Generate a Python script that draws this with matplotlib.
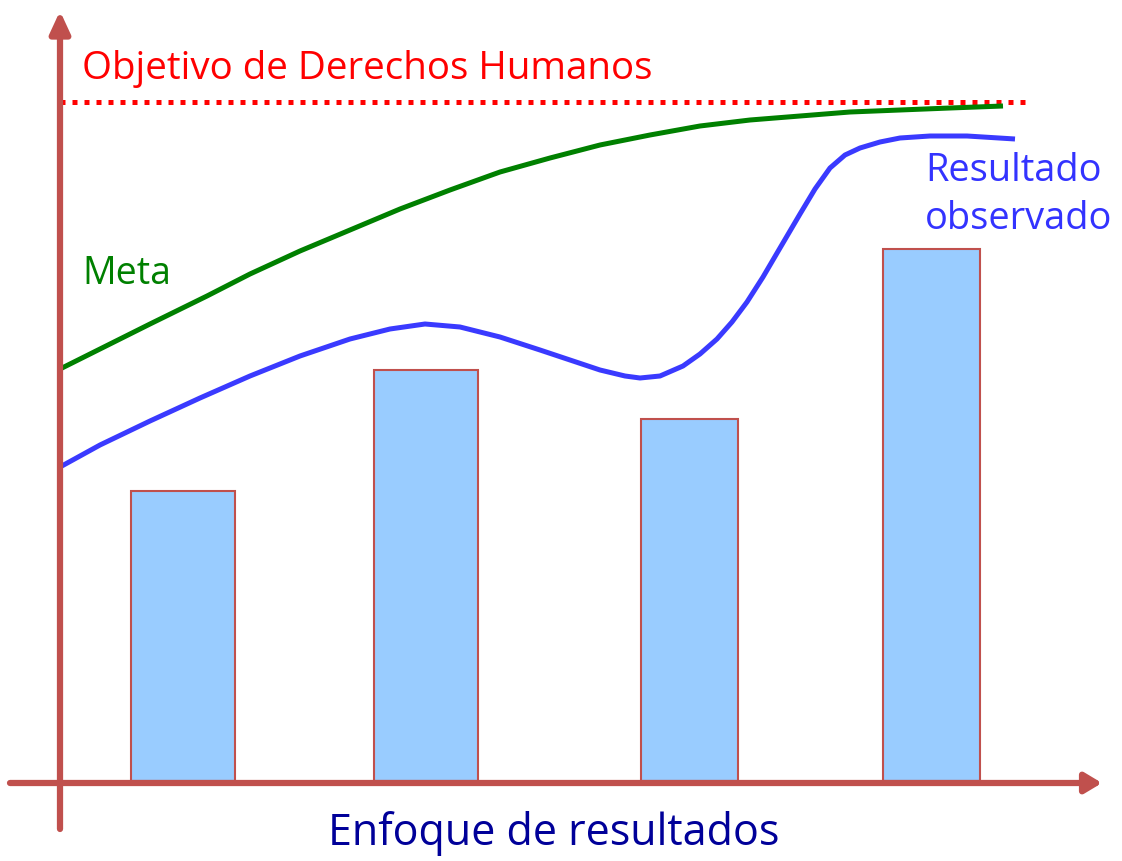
import matplotlib
matplotlib.use("Agg")
import matplotlib.pyplot as plt

plt.rcParams['font.family'] = ['Open Sans', 'DejaVu Sans']

# Datos (altura sobre el eje horizontal)
barras_x = [183, 426, 689.5, 931.5]
barras_valor = [290, 411, 362, 532]
barras_ancho = [104, 104, 97, 97]

meta_x = [60, 100, 150, 207, 250, 300, 350, 400, 450, 500, 550, 600, 650, 700,
          750, 800, 850, 900, 950, 1003]
meta_y = [412, 432, 457, 485, 507, 530, 551, 572, 591, 609, 623, 636, 646, 655,
          661, 665, 669, 671, 673, 675]

resultado_x = [60, 100, 150, 200, 250, 300, 350, 390, 425, 460, 500, 540, 567, 600,
               625, 640, 660, 683, 700, 717, 732, 747, 763, 780, 800, 815, 830, 845,
               860, 880, 900, 930, 967, 1015]
resultado_y = [314, 336, 360, 383, 405, 425, 442, 452, 457, 454, 444, 431, 422, 411,
               405, 403, 405, 415, 427, 442, 459, 479, 504, 533, 567, 592, 613, 626,
               633, 639, 643, 645, 645, 642]

objetivo = 679
objetivo_x = [60, 1025]

color_eje = '#C0504D'

fig = plt.figure(figsize=(11.22, 8.62), dpi=100)
ax = fig.add_axes([0, 0, 1, 1])
ax.set_xlim(0, 1122)
ax.set_ylim(-80, 782)
ax.axis('off')

# Barras
ax.bar(barras_x, barras_valor, width=barras_ancho, color='#99CCFF',
       edgecolor=color_eje, linewidth=1.5, zorder=2)

# Objetivo (linea punteada)
ax.plot(objetivo_x, [objetivo, objetivo], color='#FF0000', lw=3.6,
        linestyle=(0, (1, 1.4)), dash_capstyle='butt', zorder=3)

# Meta y resultado observado
ax.plot(meta_x, meta_y, color='#008000', lw=3.6, solid_capstyle='butt',
        solid_joinstyle='round', zorder=4)
ax.plot(resultado_x, resultado_y, color='#3A3AFF', lw=3.6, solid_capstyle='butt',
        solid_joinstyle='round', zorder=4)

# Ejes con flechas
ax.annotate('', xy=(60, 770), xytext=(60, -48),
            arrowprops=dict(arrowstyle='-|>,head_length=1.3,head_width=0.6', lw=4.5,
                            color=color_eje, shrinkA=0, shrinkB=0), zorder=5)
ax.annotate('', xy=(1102, -2), xytext=(10, -2),
            arrowprops=dict(arrowstyle='-|>,head_length=1.0,head_width=0.6', lw=4.5,
                            color=color_eje, shrinkA=0, shrinkB=0), zorder=5)

# Textos
ax.text(82, 713, 'Objetivo de Derechos Humanos', color='#FF0000', fontsize=27.7,
        va='center', ha='left')
ax.text(82, 508, 'Meta', color='#008000', fontsize=27, va='center', ha='left')
ax.text(925, 587, 'Resultado\nobservado', color='#3333FF', fontsize=27.4,
        va='center', ha='left', linespacing=1.32)
ax.text(554, -52, 'Enfoque de resultados', color='#000099', fontsize=31,
        va='center', ha='center')

fig.savefig('out.png', dpi=100)
